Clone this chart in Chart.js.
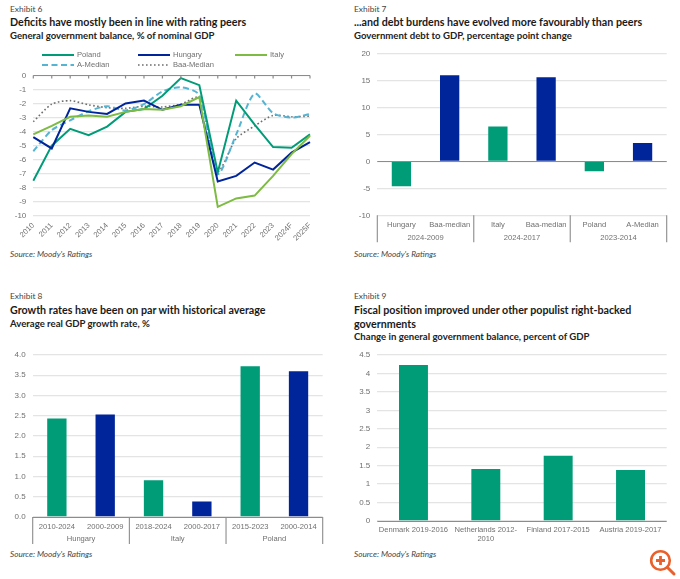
<!DOCTYPE html>
<html>
<head>
<meta charset="utf-8">
<script src="https://cdn.jsdelivr.net/npm/chart.js@4"></script>
<style>
html,body{margin:0;padding:0;background:#fff;width:680px;height:579px;overflow:hidden}
.t{position:absolute;white-space:nowrap;font-family:Lato,sans-serif;color:#1f1f1f}
.ex{font-size:8.4px;color:#444}
.ti{font-size:10.7px;font-weight:700;color:#1a1a1a;line-height:14px}
.su{font-size:9.6px;font-weight:700;color:#222}
.so{font-size:8.2px;font-style:italic;color:#444}
canvas{position:absolute}
</style>
</head>
<body>
<div class="t ex" style="left:10px;top:4px">Exhibit 6</div>
<div class="t ti" style="left:10px;top:15px">Deficits have mostly been in line with rating peers</div>
<div class="t su" style="left:10px;top:30px">General government balance, % of nominal GDP</div>
<div class="t so" style="left:10px;top:249px">Source: Moody's Ratings</div>

<div class="t ex" style="left:354px;top:4px">Exhibit 7</div>
<div class="t ti" style="left:354px;top:15px">...and debt burdens have evolved more favourably than peers</div>
<div class="t su" style="left:354px;top:30px">Government debt to GDP, percentage point change</div>
<div class="t so" style="left:354px;top:249px">Source: Moody's Ratings</div>

<div class="t ex" style="left:10px;top:291px">Exhibit 8</div>
<div class="t ti" style="left:10px;top:303px">Growth rates have been on par with historical average</div>
<div class="t su" style="left:10px;top:318px">Average real GDP growth rate, %</div>
<div class="t so" style="left:10px;top:549px">Source: Moody's Ratings</div>

<div class="t ex" style="left:354px;top:291px">Exhibit 9</div>
<div class="t ti" style="left:354px;top:303px">Fiscal position improved under other populist right-backed<br>governments</div>
<div class="t su" style="left:354px;top:331px">Change in general government balance, percent of GDP</div>
<div class="t so" style="left:354px;top:549px">Source: Moody's Ratings</div>

<canvas id="c1"></canvas>
<canvas id="c2"></canvas>
<canvas id="c3"></canvas>
<canvas id="c4"></canvas>

<svg style="position:absolute;left:648px;top:548px" width="30" height="30" viewBox="0 0 30 30">
  <circle cx="12.5" cy="12.5" r="9.3" fill="none" stroke="#E8602C" stroke-width="2.6"/>
  <line x1="19.5" y1="19.5" x2="26" y2="26" stroke="#E8602C" stroke-width="3" stroke-linecap="round"/>
  <path d="M12.5 8v9M8 12.5h9" stroke="#E8602C" stroke-width="2.8"/>
</svg>

<script>
// ---------- data ----------
const years = ['2010','2011','2012','2013','2014','2015','2016','2017','2018','2019','2020','2021','2022','2023','2024F','2025F'];
const poland   = [-7.5,-5.0,-3.8,-4.25,-3.65,-2.6,-2.4,-1.45,-0.2,-0.7,-6.9,-1.8,-3.5,-5.1,-5.15,-4.2];
const hungary  = [-4.4,-5.2,-2.35,-2.6,-2.75,-2.0,-1.8,-2.45,-2.1,-2.1,-7.55,-7.15,-6.2,-6.7,-5.5,-4.75];
const italy    = [-4.2,-3.6,-2.95,-2.85,-2.95,-2.6,-2.4,-2.45,-2.2,-1.55,-9.35,-8.75,-8.55,-7.15,-5.6,-4.3];
const aMedian  = [-5.4,-3.9,-3.2,-2.55,-2.2,-2.5,-2.05,-1.15,-0.85,-1.4,-7.0,-4.2,-1.3,-2.7,-3.0,-2.75];
const baaMedian= [-3.3,-2.05,-1.8,-2.1,-2.3,-2.35,-2.2,-2.25,-2.05,-1.6,-6.8,-4.5,-3.6,-2.85,-2.95,-2.9];

const debtLabels = ['Hungary','Baa-median','Italy','Baa-median','Poland','A-Median'];
const debtGroups = ['2024-2009','2024-2017','2023-2014'];
const debtValues = [-4.6,16,6.5,15.65,-1.8,3.4];

const growthLabels = ['2010-2024','2000-2009','2018-2024','2000-2017','2015-2023','2000-2014'];
const growthGroups = ['Hungary','Italy','Poland'];
const growthValues = [2.43,2.53,0.91,0.38,3.72,3.6];

const fiscalLabels = ['Denmark 2019-2016',['Netherlands 2012-','2010'],'Finland 2017-2015','Austria 2019-2017'];
const fiscalValues = [4.23,1.41,1.77,1.38];

// ---------- styles ----------
const GREEN='#009B77', BLUE='#00259B', LIME='#7DBB42', SKY='#56B4D3', DOT='#6E6E6E';
const GRID='#E4E4E4', AXIS='#8C8C8C', TXT='#707070', FONT='"Liberation Sans",Arial,sans-serif';
const pairColors=[GREEN,BLUE,GREEN,BLUE,GREEN,BLUE];

const axisPlugin={
  id:'axisDeco',
  afterDatasetsDraw(chart,args,o){
    const {ctx,chartArea:a,scales:{x,y}}=chart;
    ctx.save();
    const y0=Math.round(y.getPixelForValue(0))+.5;
    ctx.strokeStyle=AXIS;ctx.lineWidth=1.2;
    ctx.beginPath();ctx.moveTo(a.left,y0);ctx.lineTo(a.right,y0);
    if(o.pointTicks){x.ticks.forEach((t,i)=>{const p=x.getPixelForTick(i);ctx.moveTo(p,y0);ctx.lineTo(p,y0+3);});}
    ctx.stroke();
    if(o.groups){
      const n=o.groups.length, step=(a.right-a.left)/n;
      ctx.strokeStyle=AXIS;ctx.lineWidth=1.1;
      ctx.beginPath();
      for(let i=0;i<=n;i++){const p=a.left+i*step;ctx.moveTo(p,a.bottom);ctx.lineTo(p,a.bottom+o.sepLen);}
      ctx.stroke();
      ctx.fillStyle=TXT;ctx.font='7.6px '+FONT;ctx.textAlign='center';ctx.textBaseline='middle';
      o.groups.forEach((g,i)=>ctx.fillText(g,a.left+(i+.5)*step,a.bottom+o.groupY));
    }
    if(o.legend){
      ctx.font='7.6px '+FONT;ctx.textBaseline='middle';ctx.textAlign='left';
      chart.data.datasets.forEach((d,i)=>{
        const [lx,ly]=o.legend[i];
        ctx.strokeStyle=d.borderColor;ctx.lineWidth=d.borderWidth;ctx.setLineDash(d.borderDash||[]);
        ctx.beginPath();ctx.moveTo(lx,ly);ctx.lineTo(lx+32,ly);ctx.stroke();
        ctx.setLineDash([]);
        ctx.fillStyle=TXT;ctx.fillText(d.label,lx+35,ly);
      });
    }
    ctx.restore();
  }
};

function fixScale(prop,size){
  return s=>{s[prop]=size;s.paddingLeft=s.paddingRight=s.paddingTop=s.paddingBottom=0;};
}

// box = canvas position; area = plot rectangle on the page
function make(id,box,area,type,data,yCfg,xCfg,deco){
  const c=document.getElementById(id);
  c.style.left=box.l+'px';c.style.top=box.t+'px';
  c.width=box.w;c.height=box.h;c.style.width=box.w+'px';c.style.height=box.h+'px';
  new Chart(c,{
    type,data,plugins:[axisPlugin],
    options:{
      responsive:false,animation:false,
      layout:{padding:{top:area.t-box.t,right:box.l+box.w-area.r,left:0,bottom:0}},
      plugins:{legend:{display:false},tooltip:{enabled:false},axisDeco:deco},
      scales:{
        x:Object.assign({
          grid:{display:false,drawTicks:false},border:{display:false},
          afterFit:fixScale('height',box.t+box.h-area.b),
          ticks:{color:TXT,font:{size:7.6,family:FONT},padding:xCfg.pad,maxRotation:xCfg.rot||0,minRotation:xCfg.rot||0,autoSkip:false}
        },xCfg.extra||{}),
        y:{
          min:yCfg.min,max:yCfg.max,
          grid:{color:GRID,lineWidth:1.3,drawTicks:false},
          border:{display:false},
          afterFit:fixScale('width',area.l-box.l),
          ticks:{color:TXT,font:{size:8,family:FONT},padding:7,stepSize:yCfg.step,callback:yCfg.fmt}
        }
      }
    }
  });
}

// Exhibit 6
make('c1',{l:0,t:45,w:340,h:205},{l:33.3,t:75.3,r:310,b:216},'line',{
  labels:years,
  datasets:[
    {label:'Poland',data:poland,borderColor:GREEN,borderWidth:2,pointRadius:0,tension:0,order:3},
    {label:'Hungary',data:hungary,borderColor:BLUE,borderWidth:2,pointRadius:0,tension:0,order:2},
    {label:'Italy',data:italy,borderColor:LIME,borderWidth:2,pointRadius:0,tension:0,order:1},
    {label:'A-Median',data:aMedian,borderColor:SKY,borderWidth:2,borderDash:[6,3.5],pointRadius:0,tension:.25,order:4},
    {label:'Baa-Median',data:baaMedian,borderColor:DOT,borderWidth:1.6,borderDash:[1.6,2.4],pointRadius:0,tension:.25,order:5}
  ]
},{min:-10,max:0,step:1,fmt:v=>String(v)},{pad:5,rot:45,extra:{offset:false}},
{pointTicks:true,legend:[[42,10],[138,10],[235,10],[42,20],[138,20]]});

// Exhibit 7
make('c2',{l:340,t:45,w:340,h:205},{l:377.3,t:53.7,r:666.7,b:215.3},'bar',{
  labels:debtLabels,
  datasets:[{label:'Debt change',data:debtValues,backgroundColor:pairColors,categoryPercentage:1,barPercentage:.4}]
},{min:-10,max:20,step:5,fmt:v=>String(v)},{pad:5},
{groups:debtGroups,sepLen:27,groupY:22.5});

// Exhibit 8
make('c3',{l:0,t:340,w:340,h:210},{l:32.7,t:355,r:322.7,b:517},'bar',{
  labels:growthLabels,
  datasets:[{label:'Growth',data:growthValues,backgroundColor:pairColors,categoryPercentage:1,barPercentage:.4}]
},{min:0,max:4,step:.5,fmt:v=>v.toFixed(1)},{pad:5},
{groups:growthGroups,sepLen:27,groupY:22});

// Exhibit 9
make('c4',{l:340,t:340,w:340,h:210},{l:377.3,t:355,r:666.7,b:521},'bar',{
  labels:fiscalLabels,
  datasets:[{label:'Balance change',data:fiscalValues,backgroundColor:GREEN,categoryPercentage:1,barPercentage:.4}]
},{min:0,max:4.5,step:.5,fmt:v=>String(v)},{pad:4},{});
</script>
</body>
</html>
